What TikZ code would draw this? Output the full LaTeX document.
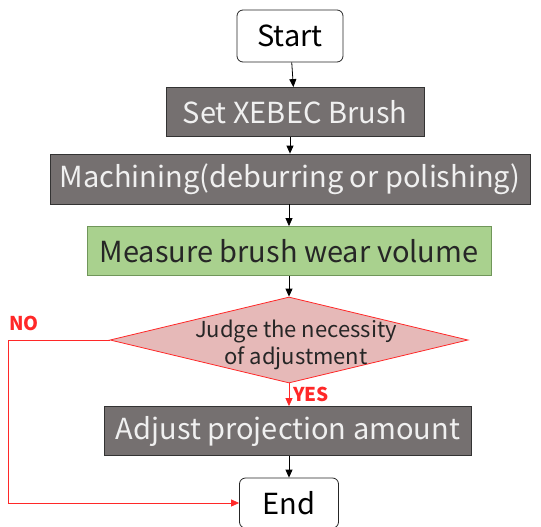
\documentclass[tikz,border=0pt]{standalone}
\usepackage{fontspec}
\setmainfont{Noto Sans CJK JP}
\usetikzlibrary{shapes.geometric, arrows.meta, positioning}
\definecolor{boxgray}{RGB}{117,112,112}
\definecolor{boxtext}{RGB}{240,240,240}
\definecolor{measgreen}{RGB}{169,209,142}
\definecolor{measline}{RGB}{112,150,90}
\definecolor{judgepink}{RGB}{230,185,184}
\definecolor{noline}{RGB}{255,40,40}

\begin{document}
\begin{tikzpicture}[
  x=1pt,y=-1pt,
  terminal/.style={
    rectangle, rounded corners=6pt, thick, draw=black!85, fill=white,
    inner sep=0pt, font=\fontsize{29}{32}\selectfont
  },
  process/.style={
    rectangle, thick, draw=black!80, fill=boxgray, text=boxtext,
    inner sep=0pt, font=\fontsize{29}{32}\selectfont
  },
  measure/.style={
    rectangle, thick, draw=measline, fill=measgreen, text=black!85,
    inner sep=0pt, font=\fontsize{29}{32}\selectfont
  },
  decision/.style={
    diamond, thick, draw=noline, fill=judgepink, inner sep=0pt
  },
  arrow/.style={-{Triangle[length=8pt,width=7pt]}, thick, draw=black},
  redarrow/.style={-{Triangle[length=8pt,width=7pt]}, thick, draw=noline},
  lbl/.style={font=\fontsize{19}{21}\selectfont\bfseries, text=noline, inner sep=1pt}
]
\useasboundingbox (0,0) rectangle (541,527);

% ---- boxes at fixed positions ----
\node[terminal, minimum width=106, minimum height=52] (start)   at (290, 36)  {Start};
\node[process,  minimum width=258, minimum height=49] (brush)   at (295,112)  {Set XEBEC Brush};
\node[process,  minimum width=480, minimum height=50] (machine) at (290,179)  {Machining(deburring or polishing)};
\node[measure,  minimum width=404, minimum height=49] (measure) at (289,251)  {Measure brush wear volume};
\node[decision, minimum width=358, minimum height=86,
      label={[font=\fontsize{22}{27}\selectfont, align=center, text=black!85, yshift=-5pt, xshift=7pt]center:Judge the necessity\\of adjustment}]
                                                      (judge)   at (289,340)  {};
\node[process,  minimum width=367, minimum height=49] (adjust)  at (288,431)  {Adjust projection amount};
\node[terminal, minimum width=99,  minimum height=50] (finish)  at (289,503)  {End};

\coordinate (nocorner) at (8,340);

% ---- connectors ----
\draw[arrow] (start) -- (brush);
\draw[arrow] (brush.south -| machine) -- (machine);
\draw[arrow] (machine.south -| measure) -- (measure);
\draw[arrow] (measure) -- (judge);
\draw[redarrow] (judge.south) -- node[lbl, right, pos=0.5, xshift=3pt] {YES} (adjust.north -| judge.south);
\draw[arrow] (adjust.south -| finish) -- (finish);
\draw[redarrow] (judge.west) -- (nocorner) |- (finish.west);

\node[lbl] (nolbl) at (24,323) {NO};

\end{tikzpicture}
\end{document}
